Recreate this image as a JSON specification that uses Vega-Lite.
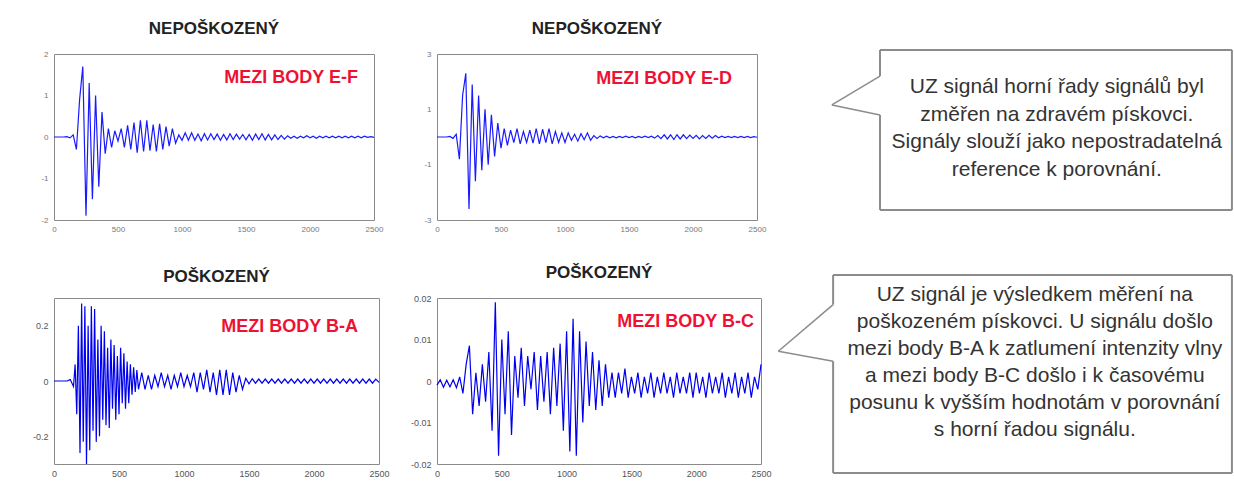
{
  "$schema": "https://vega.github.io/schema/vega-lite/v6.json",
  "background": "white",
  "padding": {"left": 31, "top": 19, "right": 0, "bottom": 0},
  "datasets": {
    "sig": [
      {"t":0,"ef":0,"ed":0,"bc":-0.001},
      {"t":25,"ef":0,"ed":0,"bc":0.0003},
      {"t":50,"ef":0,"ed":0,"bc":-0.0015},
      {"t":75,"ef":0,"ed":0,"bc":0.0002},
      {"t":100,"ef":0.01,"ed":0.02,"bc":-0.0014},
      {"t":125,"ef":-0.02,"ed":-0.05,"bc":0.0003},
      {"t":150,"ef":0.05,"ed":0.1,"bc":-0.0016},
      {"t":175,"ef":-0.3,"ed":-0.8,"bc":0.001},
      {"t":200,"ef":0.9,"ed":1.5,"bc":-0.003},
      {"t":225,"ef":1.7,"ed":2.3,"bc":0.004},
      {"t":250,"ef":-1.9,"ed":-2.6,"bc":0.0085},
      {"t":275,"ef":1.3,"ed":1.9,"bc":-0.008},
      {"t":300,"ef":-1.5,"ed":-1.6,"bc":0.002},
      {"t":325,"ef":1.0,"ed":1.5,"bc":-0.006},
      {"t":350,"ef":-1.2,"ed":-1.2,"bc":0.004},
      {"t":375,"ef":0.6,"ed":1.0,"bc":-0.005},
      {"t":400,"ef":-0.4,"ed":-1.0,"bc":0.007},
      {"t":425,"ef":0.2,"ed":0.8,"bc":-0.012},
      {"t":450,"ef":-0.25,"ed":-0.7,"bc":0.019},
      {"t":475,"ef":0.15,"ed":0.5,"bc":-0.018},
      {"t":500,"ef":-0.1,"ed":-0.4,"bc":0.01},
      {"t":525,"ef":0.2,"ed":0.3,"bc":-0.008},
      {"t":550,"ef":-0.25,"ed":-0.3,"bc":0.012},
      {"t":575,"ef":0.28,"ed":0.25,"bc":-0.013},
      {"t":600,"ef":-0.3,"ed":-0.2,"bc":0.006},
      {"t":625,"ef":0.35,"ed":0.3,"bc":-0.004},
      {"t":650,"ef":-0.38,"ed":-0.25,"bc":0.008},
      {"t":675,"ef":0.4,"ed":0.2,"bc":-0.006},
      {"t":700,"ef":-0.35,"ed":-0.2,"bc":0.006},
      {"t":725,"ef":0.4,"ed":0.25,"bc":-0.002},
      {"t":750,"ef":-0.33,"ed":-0.22,"bc":0.007},
      {"t":775,"ef":0.3,"ed":0.3,"bc":-0.007},
      {"t":800,"ef":-0.35,"ed":-0.25,"bc":0.006},
      {"t":825,"ef":0.32,"ed":0.28,"bc":-0.005},
      {"t":850,"ef":-0.3,"ed":-0.2,"bc":0.007},
      {"t":875,"ef":0.25,"ed":0.3,"bc":-0.008},
      {"t":900,"ef":-0.22,"ed":-0.25,"bc":0.008},
      {"t":925,"ef":0.2,"ed":0.2,"bc":-0.006},
      {"t":950,"ef":-0.15,"ed":-0.2,"bc":0.009},
      {"t":975,"ef":0.05,"ed":0.15,"bc":-0.012},
      {"t":1000,"ef":-0.08,"ed":-0.2,"bc":0.012},
      {"t":1025,"ef":0.1,"ed":0.15,"bc":-0.017},
      {"t":1050,"ef":-0.08,"ed":-0.12,"bc":0.015},
      {"t":1075,"ef":0.1,"ed":0.1,"bc":-0.018},
      {"t":1100,"ef":-0.08,"ed":-0.15,"bc":0.012},
      {"t":1125,"ef":0.07,"ed":0.12,"bc":-0.01},
      {"t":1150,"ef":-0.09,"ed":-0.1,"bc":0.0095},
      {"t":1175,"ef":0.08,"ed":0.15,"bc":-0.006},
      {"t":1200,"ef":-0.07,"ed":-0.12,"bc":0.007},
      {"t":1225,"ef":0.08,"ed":0.05,"bc":-0.007},
      {"t":1250,"ef":-0.06,"ed":-0.05,"bc":0.005},
      {"t":1275,"ef":0.07,"ed":0.04,"bc":-0.006},
      {"t":1300,"ef":-0.08,"ed":-0.03,"bc":0.004},
      {"t":1325,"ef":0.06,"ed":0.03,"bc":-0.004},
      {"t":1350,"ef":-0.07,"ed":-0.03,"bc":0.002},
      {"t":1375,"ef":0.08,"ed":0.02,"bc":-0.004},
      {"t":1400,"ef":-0.06,"ed":-0.03,"bc":0.002},
      {"t":1425,"ef":0.07,"ed":0.02,"bc":-0.003},
      {"t":1450,"ef":-0.05,"ed":-0.02,"bc":0.003},
      {"t":1475,"ef":0.06,"ed":0.03,"bc":-0.004},
      {"t":1500,"ef":-0.07,"ed":-0.02,"bc":0.001},
      {"t":1525,"ef":0.06,"ed":0.02,"bc":-0.003},
      {"t":1550,"ef":-0.08,"ed":-0.03,"bc":0.002},
      {"t":1575,"ef":0.07,"ed":0.02,"bc":-0.004},
      {"t":1600,"ef":-0.06,"ed":-0.02,"bc":0.001},
      {"t":1625,"ef":0.08,"ed":0.03,"bc":-0.003},
      {"t":1650,"ef":-0.07,"ed":-0.02,"bc":0.002},
      {"t":1675,"ef":0.06,"ed":0.03,"bc":-0.004},
      {"t":1700,"ef":-0.07,"ed":-0.04,"bc":0.001},
      {"t":1725,"ef":0.05,"ed":0.05,"bc":-0.003},
      {"t":1750,"ef":-0.06,"ed":-0.06,"bc":0.002},
      {"t":1775,"ef":0.04,"ed":0.08,"bc":-0.003},
      {"t":1800,"ef":-0.05,"ed":-0.07,"bc":0.001},
      {"t":1825,"ef":0.03,"ed":0.08,"bc":-0.004},
      {"t":1850,"ef":-0.03,"ed":-0.09,"bc":0.002},
      {"t":1875,"ef":0.02,"ed":0.08,"bc":-0.003},
      {"t":1900,"ef":-0.03,"ed":-0.07,"bc":0.001},
      {"t":1925,"ef":0.02,"ed":0.08,"bc":-0.003},
      {"t":1950,"ef":-0.02,"ed":-0.06,"bc":0.002},
      {"t":1975,"ef":0.03,"ed":0.07,"bc":-0.004},
      {"t":2000,"ef":-0.02,"ed":-0.05,"bc":0.002},
      {"t":2025,"ef":0.02,"ed":0.06,"bc":-0.003},
      {"t":2050,"ef":-0.03,"ed":-0.07,"bc":0.001},
      {"t":2075,"ef":0.02,"ed":0.05,"bc":-0.004},
      {"t":2100,"ef":-0.02,"ed":-0.05,"bc":0.002},
      {"t":2125,"ef":0.02,"ed":0.06,"bc":-0.003},
      {"t":2150,"ef":-0.02,"ed":-0.04,"bc":0.001},
      {"t":2175,"ef":0.02,"ed":0.05,"bc":-0.003},
      {"t":2200,"ef":-0.02,"ed":-0.03,"bc":0.002},
      {"t":2225,"ef":0.02,"ed":0.03,"bc":-0.004},
      {"t":2250,"ef":-0.02,"ed":-0.02,"bc":0.001},
      {"t":2275,"ef":0.02,"ed":0.02,"bc":-0.003},
      {"t":2300,"ef":-0.02,"ed":-0.02,"bc":0.002},
      {"t":2325,"ef":0.02,"ed":0.02,"bc":-0.004},
      {"t":2350,"ef":-0.02,"ed":-0.02,"bc":0.001},
      {"t":2375,"ef":0.02,"ed":0.02,"bc":-0.003},
      {"t":2400,"ef":-0.02,"ed":-0.02,"bc":0.002},
      {"t":2425,"ef":0.02,"ed":0.02,"bc":-0.004},
      {"t":2450,"ef":-0.01,"ed":-0.02,"bc":0.001},
      {"t":2475,"ef":0.01,"ed":0.01,"bc":-0.002},
      {"t":2500,"ef":-0.01,"ed":-0.01,"bc":0.004}
    ],
    "bad": [
      {"t":0,"ba":0},{"t":25,"ba":0},{"t":50,"ba":0},{"t":75,"ba":0},{"t":100,"ba":0},{"t":125,"ba":0.005},
      {"t":150,"ba":-0.02},{"t":162.5,"ba":0.06},{"t":175,"ba":-0.12},{"t":187.5,"ba":0.2},{"t":200,"ba":-0.26},
      {"t":212.5,"ba":0.28},{"t":225,"ba":-0.22},{"t":237.5,"ba":0.27},{"t":250,"ba":-0.3},{"t":262.5,"ba":0.2},
      {"t":275,"ba":-0.25},{"t":287.5,"ba":0.27},{"t":300,"ba":-0.18},{"t":312.5,"ba":0.26},{"t":325,"ba":-0.22},
      {"t":337.5,"ba":0.15},{"t":350,"ba":-0.2},{"t":362.5,"ba":0.2},{"t":375,"ba":-0.14},{"t":387.5,"ba":0.18},
      {"t":400,"ba":-0.16},{"t":412.5,"ba":0.12},{"t":425,"ba":-0.17},{"t":437.5,"ba":0.15},{"t":450,"ba":-0.1},
      {"t":462.5,"ba":0.13},{"t":475,"ba":-0.14},{"t":487.5,"ba":0.09},{"t":500,"ba":-0.12},{"t":512.5,"ba":0.12},
      {"t":525,"ba":-0.08},{"t":537.5,"ba":0.1},{"t":550,"ba":-0.1},{"t":562.5,"ba":0.07},{"t":575,"ba":-0.08},
      {"t":587.5,"ba":0.06},{"t":600,"ba":-0.05},{"t":612.5,"ba":0.05},{"t":625,"ba":-0.04},{"t":637.5,"ba":0.04},
      {"t":650,"ba":-0.03},{"t":675,"ba":0.03},{"t":700,"ba":-0.03},{"t":725,"ba":0.02},{"t":750,"ba":-0.03},
      {"t":775,"ba":0.02},{"t":800,"ba":-0.02},{"t":825,"ba":0.03},{"t":850,"ba":-0.02},{"t":875,"ba":0.02},
      {"t":900,"ba":-0.03},{"t":925,"ba":0.02},{"t":950,"ba":-0.02},{"t":975,"ba":0.03},{"t":1000,"ba":-0.02},
      {"t":1025,"ba":0.02},{"t":1050,"ba":-0.02},{"t":1075,"ba":0.03},{"t":1100,"ba":-0.04},{"t":1125,"ba":0.03},
      {"t":1150,"ba":-0.03},{"t":1175,"ba":0.04},{"t":1200,"ba":-0.04},{"t":1225,"ba":0.03},{"t":1250,"ba":-0.05},
      {"t":1275,"ba":0.04},{"t":1300,"ba":-0.05},{"t":1325,"ba":0.04},{"t":1350,"ba":-0.05},{"t":1375,"ba":0.03},
      {"t":1400,"ba":-0.04},{"t":1425,"ba":0.02},{"t":1450,"ba":-0.03},{"t":1475,"ba":0.01},{"t":1500,"ba":-0.01},
      {"t":1525,"ba":0.008},{"t":1550,"ba":-0.008},{"t":1575,"ba":0.007},{"t":1600,"ba":-0.008},{"t":1625,"ba":0.007},
      {"t":1650,"ba":-0.008},{"t":1675,"ba":0.007},{"t":1700,"ba":-0.008},{"t":1725,"ba":0.007},{"t":1750,"ba":-0.008},
      {"t":1775,"ba":0.007},{"t":1800,"ba":-0.008},{"t":1825,"ba":0.007},{"t":1850,"ba":-0.008},{"t":1875,"ba":0.007},
      {"t":1900,"ba":-0.008},{"t":1925,"ba":0.007},{"t":1950,"ba":-0.008},{"t":1975,"ba":0.007},{"t":2000,"ba":-0.008},
      {"t":2025,"ba":0.007},{"t":2050,"ba":-0.008},{"t":2075,"ba":0.007},{"t":2100,"ba":-0.008},{"t":2125,"ba":0.007},
      {"t":2150,"ba":-0.008},{"t":2175,"ba":0.007},{"t":2200,"ba":-0.008},{"t":2225,"ba":0.007},{"t":2250,"ba":-0.008},
      {"t":2275,"ba":0.007},{"t":2300,"ba":-0.008},{"t":2325,"ba":0.007},{"t":2350,"ba":-0.008},{"t":2375,"ba":0.007},
      {"t":2400,"ba":-0.008},{"t":2425,"ba":0.007},{"t":2450,"ba":-0.008},{"t":2475,"ba":0.007},{"t":2500,"ba":-0.005}
    ]
  },
  "columns": 3,
  "spacing": {"row": 78, "column": 58},
  "bounds": "flush",
  "concat": [
    {
      "width": 320, "height": 166,
      "title": "NEPOŠKOZENÝ",
      "layer": [
        {
          "data": {"name": "sig"},
          "mark": {"type": "line", "color": "#1a1aff", "strokeWidth": 1.2},
          "encoding": {
            "x": {"field": "t", "type": "quantitative", "scale": {"domain": [0, 2500], "nice": false}, "axis": {"values": [0, 500, 1000, 1500, 2000, 2500], "format": "d", "title": null, "labelPadding": 5}},
            "y": {"field": "ef", "type": "quantitative", "scale": {"domain": [-2, 2], "nice": false}, "axis": {"values": [-2, -1, 0, 1, 2], "title": null, "format": "~g", "labelExpr": "replace(datum.label, '−', '-')"}}
          }
        },
        {
          "data": {"values": [{"lab": "MEZI BODY E-F"}]},
          "mark": {"type": "text", "color": "#ee1133", "fontSize": 18, "fontWeight": "bold", "font": "Liberation Sans", "align": "right", "baseline": "middle"},
          "encoding": {"text": {"field": "lab"}, "x": {"datum": 2375, "type": "quantitative"}, "y": {"datum": 1.42, "type": "quantitative"}}
        }
      ]
    },
    {
      "width": 320, "height": 166,
      "title": "NEPOŠKOZENÝ",
      "layer": [
        {
          "data": {"name": "sig"},
          "mark": {"type": "line", "color": "#1a1aff", "strokeWidth": 1.2},
          "encoding": {
            "x": {"field": "t", "type": "quantitative", "scale": {"domain": [0, 2500], "nice": false}, "axis": {"values": [0, 500, 1000, 1500, 2000, 2500], "format": "d", "title": null, "labelPadding": 5}},
            "y": {"field": "ed", "type": "quantitative", "scale": {"domain": [-3, 3], "nice": false}, "axis": {"values": [-3, -2, -1, 0, 1, 2, 3], "title": null, "format": "~g", "labelExpr": "replace(datum.label, '−', '-')"}}
          }
        },
        {
          "data": {"values": [{"lab": "MEZI BODY E-D"}]},
          "mark": {"type": "text", "color": "#ee1133", "fontSize": 18, "fontWeight": "bold", "font": "Liberation Sans", "align": "right", "baseline": "middle"},
          "encoding": {"text": {"field": "lab"}, "x": {"datum": 2305, "type": "quantitative"}, "y": {"datum": 2.09, "type": "quantitative"}}
        }
      ]
    },
    {
      "width": 415, "height": 166,
      "view": {"stroke": null},
      "data": {"values": [{"txt": "UZ signál horní řady signálů byl\nzměřen na zdravém pískovci.\nSignály slouží jako nepostradatelná\nreference k porovnání."}]},
      "layer": [
        {"mark": {"type": "rule", "color": "#8c8c8c", "strokeWidth": 2}, "encoding": {"x": {"datum": 14.7, "type": "quantitative", "scale": {"domain": [0, 100]}, "axis": null}, "y": {"datum": 102.4, "type": "quantitative", "scale": {"domain": [0, 100]}, "axis": null}, "x2": {"datum": 99.5}, "y2": {"datum": 102.4}}},
        {"mark": {"type": "rule", "color": "#8c8c8c", "strokeWidth": 2}, "encoding": {"x": {"datum": 99.5, "type": "quantitative", "scale": {"domain": [0, 100]}, "axis": null}, "y": {"datum": 102.4, "type": "quantitative", "scale": {"domain": [0, 100]}, "axis": null}, "x2": {"datum": 99.5}, "y2": {"datum": 6.0}}},
        {"mark": {"type": "rule", "color": "#8c8c8c", "strokeWidth": 2}, "encoding": {"x": {"datum": 99.5, "type": "quantitative", "scale": {"domain": [0, 100]}, "axis": null}, "y": {"datum": 6.0, "type": "quantitative", "scale": {"domain": [0, 100]}, "axis": null}, "x2": {"datum": 14.7}, "y2": {"datum": 6.0}}},
        {"mark": {"type": "rule", "color": "#8c8c8c", "strokeWidth": 2}, "encoding": {"x": {"datum": 14.7, "type": "quantitative", "scale": {"domain": [0, 100]}, "axis": null}, "y": {"datum": 6.0, "type": "quantitative", "scale": {"domain": [0, 100]}, "axis": null}, "x2": {"datum": 14.7}, "y2": {"datum": 63.3}}},
        {"mark": {"type": "rule", "color": "#8c8c8c", "strokeWidth": 1.5}, "encoding": {"x": {"datum": 14.7, "type": "quantitative", "scale": {"domain": [0, 100]}, "axis": null}, "y": {"datum": 63.3, "type": "quantitative", "scale": {"domain": [0, 100]}, "axis": null}, "x2": {"datum": 3.1}, "y2": {"datum": 69.3}}},
        {"mark": {"type": "rule", "color": "#8c8c8c", "strokeWidth": 1.5}, "encoding": {"x": {"datum": 3.1, "type": "quantitative", "scale": {"domain": [0, 100]}, "axis": null}, "y": {"datum": 69.3, "type": "quantitative", "scale": {"domain": [0, 100]}, "axis": null}, "x2": {"datum": 14.7}, "y2": {"datum": 86.7}}},
        {"mark": {"type": "rule", "color": "#8c8c8c", "strokeWidth": 2}, "encoding": {"x": {"datum": 14.7, "type": "quantitative", "scale": {"domain": [0, 100]}, "axis": null}, "y": {"datum": 86.7, "type": "quantitative", "scale": {"domain": [0, 100]}, "axis": null}, "x2": {"datum": 14.7}, "y2": {"datum": 102.4}}},
        {"mark": {"type": "text", "lineBreak": "\n", "lineHeight": 27.5, "fontSize": 21, "font": "Liberation Sans", "color": "#333333", "align": "center", "baseline": "middle"}, "encoding": {"text": {"field": "txt"}, "x": {"datum": 57.3, "type": "quantitative", "scale": {"domain": [0, 100]}, "axis": null}, "y": {"datum": 80.1, "type": "quantitative", "scale": {"domain": [0, 100]}, "axis": null}}}
      ]
    },
    {
      "width": 325, "height": 166,
      "title": "POŠKOZENÝ",
      "layer": [
        {
          "data": {"name": "bad"},
          "mark": {"type": "line", "color": "#0000ee", "strokeWidth": 1.2},
          "encoding": {
            "x": {"field": "t", "type": "quantitative", "scale": {"domain": [0, 2500], "nice": false}, "axis": {"values": [0, 500, 1000, 1500, 2000, 2500], "format": "d", "title": null, "labelPadding": 5, "labelFontSize": 9, "labelColor": "#555"}},
            "y": {"field": "ba", "type": "quantitative", "scale": {"domain": [-0.3, 0.3], "nice": false}, "axis": {"values": [-0.2, 0, 0.2], "title": null, "format": "~g", "labelExpr": "replace(datum.label, '−', '-')", "labelFontSize": 9, "labelColor": "#555"}}
          }
        },
        {
          "data": {"values": [{"lab": "MEZI BODY B-A"}]},
          "mark": {"type": "text", "color": "#ee1133", "fontSize": 18, "fontWeight": "bold", "font": "Liberation Sans", "align": "right", "baseline": "middle"},
          "encoding": {"text": {"field": "lab"}, "x": {"datum": 2338, "type": "quantitative"}, "y": {"datum": 0.195, "type": "quantitative"}}
        }
      ]
    },
    {
      "width": 324, "height": 166,
      "title": "POŠKOZENÝ",
      "layer": [
        {
          "data": {"name": "sig"},
          "mark": {"type": "line", "color": "#0000ee", "strokeWidth": 1.2},
          "encoding": {
            "x": {"field": "t", "type": "quantitative", "scale": {"domain": [0, 2500], "nice": false}, "axis": {"values": [0, 500, 1000, 1500, 2000, 2500], "format": "d", "title": null, "labelPadding": 5, "labelFontSize": 9, "labelColor": "#555"}},
            "y": {"field": "bc", "type": "quantitative", "scale": {"domain": [-0.02, 0.02], "nice": false}, "axis": {"values": [-0.02, -0.01, 0, 0.01, 0.02], "title": null, "format": "~g", "labelExpr": "replace(datum.label, '−', '-')", "labelFontSize": 9, "labelColor": "#555"}}
          }
        },
        {
          "data": {"values": [{"lab": "MEZI BODY B-C"}]},
          "mark": {"type": "text", "color": "#ee1133", "fontSize": 18, "fontWeight": "bold", "font": "Liberation Sans", "align": "right", "baseline": "middle"},
          "encoding": {"text": {"field": "lab"}, "x": {"datum": 2446, "type": "quantitative"}, "y": {"datum": 0.0143, "type": "quantitative"}}
        }
      ]
    },
    {
      "width": 415, "height": 166,
      "view": {"stroke": null},
      "data": {"values": [{"txt": "UZ signál je výsledkem měření na\npoškozeném pískovci. U signálu došlo\nmezi body B-A k zatlumení intenzity vlny\na mezi body B-C došlo i k časovému\nposunu k vyšším hodnotám v porovnání\ns horní řadou signálu."}]},
      "layer": [
        {"mark": {"type": "rule", "color": "#8c8c8c", "strokeWidth": 2}, "encoding": {"x": {"datum": 3.4, "type": "quantitative", "scale": {"domain": [0, 100]}, "axis": null}, "y": {"datum": 113.9, "type": "quantitative", "scale": {"domain": [0, 100]}, "axis": null}, "x2": {"datum": 99.5}, "y2": {"datum": 113.9}}},
        {"mark": {"type": "rule", "color": "#8c8c8c", "strokeWidth": 2}, "encoding": {"x": {"datum": 99.5, "type": "quantitative", "scale": {"domain": [0, 100]}, "axis": null}, "y": {"datum": 113.9, "type": "quantitative", "scale": {"domain": [0, 100]}, "axis": null}, "x2": {"datum": 99.5}, "y2": {"datum": -5.4}}},
        {"mark": {"type": "rule", "color": "#8c8c8c", "strokeWidth": 2}, "encoding": {"x": {"datum": 99.5, "type": "quantitative", "scale": {"domain": [0, 100]}, "axis": null}, "y": {"datum": -5.4, "type": "quantitative", "scale": {"domain": [0, 100]}, "axis": null}, "x2": {"datum": 3.4}, "y2": {"datum": -5.4}}},
        {"mark": {"type": "rule", "color": "#8c8c8c", "strokeWidth": 2}, "encoding": {"x": {"datum": 3.4, "type": "quantitative", "scale": {"domain": [0, 100]}, "axis": null}, "y": {"datum": -5.4, "type": "quantitative", "scale": {"domain": [0, 100]}, "axis": null}, "x2": {"datum": 3.4}, "y2": {"datum": 61.9}}},
        {"mark": {"type": "rule", "color": "#8c8c8c", "strokeWidth": 1.5}, "encoding": {"x": {"datum": 3.4, "type": "quantitative", "scale": {"domain": [0, 100]}, "axis": null}, "y": {"datum": 61.9, "type": "quantitative", "scale": {"domain": [0, 100]}, "axis": null}, "x2": {"datum": -9.8}, "y2": {"datum": 67.9}}},
        {"mark": {"type": "rule", "color": "#8c8c8c", "strokeWidth": 1.5}, "encoding": {"x": {"datum": -9.8, "type": "quantitative", "scale": {"domain": [0, 100]}, "axis": null}, "y": {"datum": 67.9, "type": "quantitative", "scale": {"domain": [0, 100]}, "axis": null}, "x2": {"datum": 3.4}, "y2": {"datum": 96.0}}},
        {"mark": {"type": "rule", "color": "#8c8c8c", "strokeWidth": 2}, "encoding": {"x": {"datum": 3.4, "type": "quantitative", "scale": {"domain": [0, 100]}, "axis": null}, "y": {"datum": 96.0, "type": "quantitative", "scale": {"domain": [0, 100]}, "axis": null}, "x2": {"datum": 3.4}, "y2": {"datum": 113.9}}},
        {"mark": {"type": "text", "lineBreak": "\n", "lineHeight": 27, "fontSize": 21, "font": "Liberation Sans", "color": "#333333", "align": "center", "baseline": "middle"}, "encoding": {"text": {"field": "txt"}, "x": {"datum": 52.0, "type": "quantitative", "scale": {"domain": [0, 100]}, "axis": null}, "y": {"datum": 102.0, "type": "quantitative", "scale": {"domain": [0, 100]}, "axis": null}}}
      ]
    }
  ],
  "config": {
    "font": "Liberation Sans",
    "view": {"stroke": "#8a8a8a", "strokeWidth": 1},
    "axis": {"grid": false, "domain": false, "ticks": false, "labelFont": "Liberation Sans", "labelFontSize": 8, "labelColor": "#777777", "labelFlush": false, "labelOverlap": false, "labelPadding": 6},
    "title": {"fontSize": 17, "font": "Liberation Sans", "fontWeight": "bold", "color": "#222222", "offset": 12, "anchor": "middle"}
  }
}
